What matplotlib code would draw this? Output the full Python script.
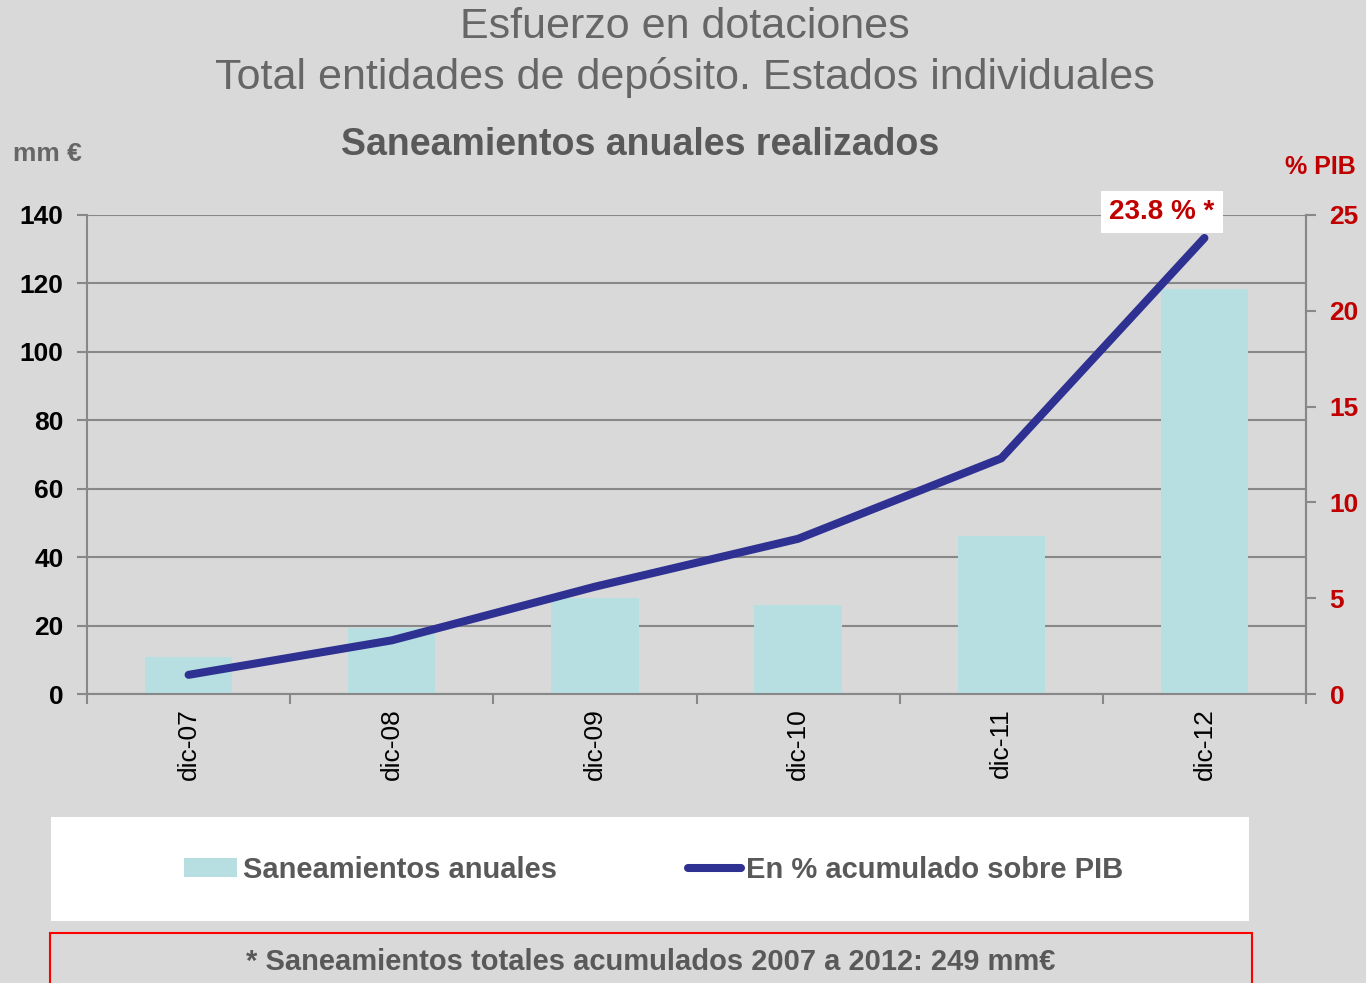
import numpy as np
import matplotlib.pyplot as plt
from matplotlib.patches import Rectangle
from matplotlib.lines import Line2D

plt.rcParams['font.family'] = ['Liberation Sans', 'DejaVu Sans']

# data
periods = ['dic-07', 'dic-08', 'dic-09', 'dic-10', 'dic-11', 'dic-12']
saneamientos = [10.7, 19.2, 28.1, 26.0, 46.2, 118.4]   # mm €
pct_pib = [1.0, 2.8, 5.6, 8.1, 12.3, 23.8]              # % PIB acumulado
left_ticks = [0, 20, 40, 60, 80, 100, 120, 140]
right_ticks = [0, 5, 10, 15, 20, 25]

bg = '#d9d9d9'
bar_col = '#b7dfe2'
line_col = '#2e3192'
red = '#c00000'
gray_txt = '#666666'
axis_col = '#888888'

fig = plt.figure(figsize=(13.66, 9.83), dpi=100, facecolor=bg)
ax = fig.add_axes([87/1366, 1-694/983, (1306-87)/1366, (694-215)/983])
ax.set_facecolor(bg)

x = np.arange(len(periods))
ax.bar(x, saneamientos, width=0.43, color=bar_col, zorder=2)
ax.set_xlim(-0.5, len(periods)-0.5)
ax.set_ylim(0, 140)
ax.set_yticks(left_ticks)
ax.yaxis.grid(True, color=axis_col, lw=1.5, zorder=0)
ax.set_axisbelow(True)
ax.set_xticks(np.arange(len(periods)+1) - 0.5)
ax.set_xticklabels([])
ax.set_xticks(x, minor=True)
ax.set_xticklabels(periods, minor=True, rotation=90, fontsize=19, color='black')
ax.tick_params(axis='x', which='major', length=7, color=axis_col, width=1.5, direction='out')
ax.tick_params(axis='x', which='minor', length=0, pad=10)
ax.tick_params(axis='y', length=7, color=axis_col, width=1.5, pad=10)
for lab in ax.get_yticklabels():
    lab.set_fontsize(19)
    lab.set_fontweight('bold')
ax.spines['top'].set_visible(False)
for s in ['left', 'bottom', 'right']:
    ax.spines[s].set_color(axis_col)
    ax.spines[s].set_linewidth(1.5)

ax2 = ax.twinx()
ax2.plot(x, pct_pib, color=line_col, lw=5.8, solid_capstyle='round', zorder=3)
ax2.set_ylim(0, 25)
ax2.set_yticks(right_ticks)
ax2.tick_params(axis='y', length=7, width=1.5, pad=10, color=axis_col)
for lab in ax2.get_yticklabels():
    lab.set_fontsize(19)
    lab.set_fontweight('bold')
    lab.set_color(red)
for s in ['top', 'left', 'bottom']:
    ax2.spines[s].set_visible(False)
ax2.spines['right'].set_color(axis_col)
ax2.spines['right'].set_linewidth(1.5)

ax2.text(x[-1] - 0.21, 25.15, '%.1f %% *' % pct_pib[-1], ha='center', va='center',
         fontsize=20, fontweight='bold', color=red,
         bbox=dict(boxstyle='square,pad=0.3', fc='white', ec='none'))

# titles
fig.text(685/1366, 1-27/983, 'Esfuerzo en dotaciones', ha='center', va='center',
         fontsize=31, color=gray_txt)
fig.text(685/1366, 1-78/983, 'Total entidades de depósito. Estados individuales',
         ha='center', va='center', fontsize=31, color=gray_txt)
fig.text(640/1366, 1-145/983, 'Saneamientos anuales realizados', ha='center', va='center',
         fontsize=27, fontweight='bold', color='#595959')
fig.text(13/1366, 1-154/983, 'mm €', ha='left', va='center', fontsize=19,
         fontweight='bold', color=gray_txt)
fig.text(1356/1366, 1-167/983, '% PIB', ha='right', va='center', fontsize=18,
         fontweight='bold', color=red)

# legend box
fig.patches.append(Rectangle((51/1366, 1-921/983), (1249-51)/1366, (921-817)/983,
                             transform=fig.transFigure, fc='white', ec='none'))
handles = [Rectangle((0, 0), 1, 1, fc=bar_col, ec='none'),
           Line2D([0], [0], color=line_col, lw=5.8, solid_capstyle='round')]
fig.legend(handles, ['Saneamientos anuales', 'En % acumulado sobre PIB'],
           loc='center', bbox_to_anchor=(654/1366, 1-870/983), ncol=2, frameon=False,
           prop={'size': 21, 'weight': 'bold'}, labelcolor='#595959',
           handlelength=1.8, handleheight=0.6, handletextpad=0.2, columnspacing=4.5)

# footnote box
fig.patches.append(Rectangle((50/1366, 1-990/983), (1252-50)/1366, (990-933)/983,
                             transform=fig.transFigure, fc='none', ec='red', lw=1.5))
fig.text(651/1366, 1-962/983, '* Saneamientos totales acumulados 2007 a 2012: 249 mm€',
         ha='center', va='center', fontsize=21, fontweight='bold', color='#595959')

fig.savefig('out.png', dpi=100, facecolor=bg)
